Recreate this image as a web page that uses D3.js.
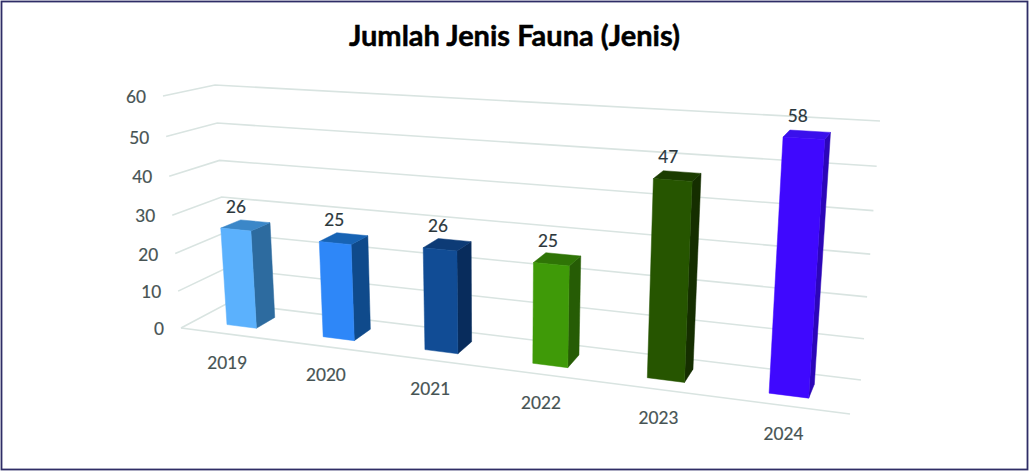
<!DOCTYPE html>
<html><head><meta charset="utf-8">
<script src="https://cdn.jsdelivr.net/npm/d3@7"></script>
<style>html,body{margin:0;padding:0;background:#fff}svg{display:block}text{font-family:Lato,"Noto Sans",sans-serif}</style>
</head><body><svg id="c" width="1030" height="472"></svg>
<script>
const categories = ["2019","2020","2021","2022","2023","2024"];
const values = [26,25,26,25,47,58];
const yTicks = [0,10,20,30,40,50,60];
const title = "Jumlah Jenis Fauna (Jenis)";
const frontColors = ["#5bb1fd","#2e87f8","#114c95","#3f9a08","#265500","#3f08fe"];
const sideColors  = ["#2d6b9f","#0f4a8b","#082c5c","#265c05","#152e00","#2c06b8"];
const topColors   = ["#3b87c8","#1763b4","#0d3b76","#2f7406","#1b3c00","#3a10ec"];

const W=1030,H=472;
const svg=d3.select("#c");
// projected corners of the 3D box: [x,y] at value 0 and at the top of the value axis
const corners={FL:[[181,328],[163,96]],BL:[[228,303],[215,85]],FR:[[850,414],[869,138]],BR:[[861,380],[880,121]]};
const vMax=d3.max(yTicks);
const persp=k=>t=>t/(t+k*(1-t));
const vNorm=d3.scaleLinear().domain([0,vMax]).range([0,1]);
const vFrac=v=>persp(1.058)(vNorm(v));
const uFrac=persp(1.195);
const mix=(a,b,t)=>[a[0]+(b[0]-a[0])*t,a[1]+(b[1]-a[1])*t];
function P(u,d,v){
  const s=uFrac(u),t=vFrac(v);
  const at=c=>mix(corners[c][0],corners[c][1],t);
  return mix(mix(at("FL"),at("BL"),d),mix(at("FR"),at("BR"),d),s);
}
const band=d3.scaleBand().domain(categories).range([0,1]);
const barW=0.052, d0=0.30, d1=0.72;
const line=d3.line();

// frame
svg.append("rect").attr("x",1.5).attr("y",1.5).attr("width",1026).attr("height",468)
  .attr("fill","#fff").attr("stroke","#2f2d66").attr("stroke-width",1.8);

// title
svg.append("text").attr("x",514.5).attr("y",46).attr("text-anchor","middle")
  .attr("font-size",29).attr("font-weight",700).attr("fill","#000")
  .attr("stroke","#000").attr("stroke-width",0.5).text(title);

// gridlines
const grid=svg.append("g").attr("fill","none").attr("stroke","#d9e4e1").attr("stroke-width",1.6);
yTicks.forEach(v=>{
  grid.append("path").attr("d",line([P(0,0,v),P(0,1,v),P(1,1,v)]));
});
grid.append("path").attr("d",line([P(0,0,0),P(1,0,0)]));

// y tick labels
svg.append("g").selectAll("text").data(yTicks).join("text")
  .attr("x",v=>P(0,0,v)[0]-17).attr("y",v=>P(0,0,v)[1]+7)
  .attr("text-anchor","end").attr("font-size",17.2).attr("fill","#465353")
  .attr("stroke","#465353").attr("stroke-width",0.2).text(v=>v);

// bars
const bars=svg.append("g").selectAll("g").data(categories).join("g");
bars.each(function(c,i){
  const g=d3.select(this),v=values[i];
  const u=band(c)+band.bandwidth()/2,a=u-barW/2,b=u+barW/2;
  const poly=(pts,fill)=>g.append("path").attr("d",line(pts)+"Z").attr("fill",fill)
    .attr("stroke",fill).attr("stroke-width",0.5).attr("stroke-linejoin","round");
  poly([P(b,d0,0),P(b,d1,0),P(b,d1,v),P(b,d0,v)],sideColors[i]);
  poly([P(a,d0,v),P(b,d0,v),P(b,d1,v),P(a,d1,v)],topColors[i]);
  poly([P(a,d0,0),P(b,d0,0),P(b,d0,v),P(a,d0,v)],frontColors[i]);
});

// value labels
svg.append("g").selectAll("text").data(categories).join("text")
  .attr("x",c=>P(band(c)+band.bandwidth()/2,0.5,values[categories.indexOf(c)])[0]-9)
  .attr("y",c=>P(band(c)+band.bandwidth()/2,0.5,values[categories.indexOf(c)])[1]-13)
  .attr("text-anchor","middle").attr("font-size",17.2).attr("fill","#2b373c")
  .attr("stroke","#2b373c").attr("stroke-width",0.2)
  .text(c=>values[categories.indexOf(c)]);

// category labels
svg.append("g").selectAll("text").data(categories).join("text")
  .attr("x",c=>P(band(c)+band.bandwidth()/2,0,0)[0]-1)
  .attr("y",c=>P(band(c)+band.bandwidth()/2,0,0)[1]+34.5)
  .attr("text-anchor","middle").attr("font-size",17.2).attr("fill","#465353")
  .attr("stroke","#465353").attr("stroke-width",0.2).text(c=>c);
</script></body></html>
